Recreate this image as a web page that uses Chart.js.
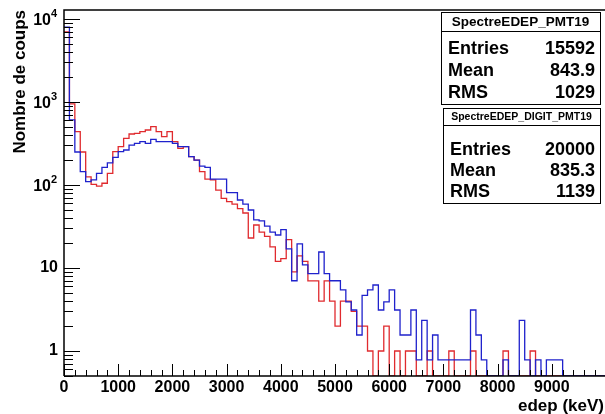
<!DOCTYPE html>
<html>
<head>
<meta charset="utf-8">
<script src="https://cdn.jsdelivr.net/npm/chart.js@4.4.1/dist/chart.umd.min.js"></script>
<style>
html, body { margin: 0; padding: 0; background: #fff; overflow: hidden; width: 605px; height: 414px; }
canvas { display: block; }
</style>
</head>
<body>
<canvas id="spectre" width="607" height="414"></canvas>
<script>
// histogramme : 100 canaux de 0 a 10000 keV
var nBins = 100, xMin = 0, xMax = 10000;

// SpectreEDEP_PMT19 (rouge)
var edepPMT = [
  7000, 950, 440, 250, 125, 102, 97, 105, 138, 252,
  290, 365, 412, 420, 440, 460, 505, 440, 383, 440,
  333, 277, 290, 220, 200, 145, 118, 115, 87, 69,
  63, 59, 52, 46, 23, 33, 27, 24, 18, 12,
  13, 22, 9, 14, 12, 7, 7, 4, 7, 4,
  2, 4, 4, 3, 2, 2, 1, 0, 1, 2,
  0, 1, 0, 1, 1, 0, 0, 1, 0, 0,
  0, 1, 0, 0, 0, 1, 0, 0, 0, 0,
  0, 1, 0, 0, 0, 0, 1, 0, 0, 0,
  0, 0, 0, 0, 0, 0, 0, 0, 0, 0
];

// SpectreEDEP_DIGIT_PMT19 (bleu, normalise aux entrees du rouge)
var edepDigit = [
  8000, 610, 250, 145, 110, 115, 138, 163, 185, 215,
  252, 264, 303, 318, 333, 318, 355, 333, 333, 333,
  318, 290, 290, 220, 200, 169, 163, 118, 118, 118,
  81, 81, 66, 59, 50, 38, 37, 32, 27, 25,
  29, 17, 7.02, 19.49, 10.91, 8.58, 8.58, 15.59, 8.58, 7.02,
  7.02, 5.46, 3.9, 3.12, 1.56, 4.68, 5.46, 6.24, 3.12, 3.9,
  5.46, 3.12, 1.56, 1.56, 3.12, 0.78, 2.34, 0.78, 1.56, 0.78,
  0.78, 0.78, 0.78, 0.78, 0.78, 3.12, 1.56, 0.78, 0, 0,
  0, 0.78, 0, 0, 2.34, 0.78, 0, 0.78, 0, 0.78,
  0.78, 0.78, 0, 0, 0, 0, 0, 0, 0, 0
];

var xTickLabels = ['0', '1000', '2000', '3000', '4000', '5000', '6000', '7000', '8000', '9000'];
var yTickValues = [1, 10, 100, 1000, 10000];
var yTickBase = ['1', '10', '10', '10', '10'];
var yTickExp = ['', '', '2', '3', '4'];

var statNames = ['Entries', 'Mean', 'RMS'];
var statsPMT = ['15592', '843.9', '1029'];
var statsDigit = ['20000', '835.3', '1139'];

var yMin = 0.5, yMax = 12840;
var police = '"Liberation Sans", Arial, Helvetica, sans-serif';

// points aux bords gauches des canaux + bord final ; canal vide -> bas de l'axe
function histo(vals) {
    var w = (xMax - xMin) / nBins;
    var pts = vals.map(function (v, i) {
        return { x: xMin + i * w, y: v > 0 ? v : yMin };
    });
    var last = vals[vals.length - 1];
    pts.push({ x: xMax, y: last > 0 ? last : yMin });
    return pts;
}

var decor = {
    id: 'decor',
    afterDatasetsDraw: function (chart) {
        var ctx = chart.ctx, a = chart.chartArea;
        var sx = chart.scales.x, sy = chart.scales.y;
        ctx.save();
        ctx.strokeStyle = '#000';
        ctx.fillStyle = '#000';

        // cadre
        ctx.lineWidth = 1.5;
        ctx.beginPath();
        ctx.moveTo(a.left, a.bottom); ctx.lineTo(a.left, a.top); ctx.lineTo(a.right, a.top);
        ctx.moveTo(a.left, a.bottom); ctx.lineTo(a.right, a.bottom);
        ctx.stroke();

        // graduations x
        ctx.lineWidth = 1;
        ctx.beginPath();
        for (var v = xMin; v <= xMax; v += 200) {
            var px = Math.round(sx.getPixelForValue(v)) + 0.5;
            var len = (v % 1000 === 0) ? 12 : 6;
            ctx.moveTo(px, a.bottom); ctx.lineTo(px, a.bottom - len);
        }
        // graduations y
        [0.1, 1, 10, 100, 1000, 10000].forEach(function (d) {
            for (var m = 1; m <= 9; m++) {
                var val = m * d;
                if (val < yMin || val > yMax) continue;
                var py = Math.round(sy.getPixelForValue(val)) + 0.5;
                ctx.moveTo(a.left, py); ctx.lineTo(a.left + (m === 1 ? 16 : 9), py);
            }
        });
        ctx.stroke();

        // etiquettes x
        ctx.font = 'bold 16px ' + police;
        ctx.textAlign = 'center';
        ctx.textBaseline = 'middle';
        xTickLabels.forEach(function (t) {
            ctx.fillText(t, sx.getPixelForValue(Number(t)), 388);
        });

        // etiquettes y
        yTickValues.forEach(function (val, i) {
            var py = sy.getPixelForValue(val);
            ctx.textAlign = 'right';
            ctx.textBaseline = 'middle';
            if (yTickExp[i]) {
                ctx.font = 'bold 16px ' + police;
                ctx.fillText(yTickBase[i], a.left - 13, py + 2);
                ctx.font = 'bold 11px ' + police;
                ctx.textAlign = 'left';
                ctx.fillText(yTickExp[i], a.left - 13, py - 5);
            } else {
                ctx.font = 'bold 16px ' + police;
                ctx.fillText(yTickBase[i], a.left - 6, py);
            }
        });

        // titres des axes
        ctx.font = 'bold 17px ' + police;
        ctx.textAlign = 'right';
        ctx.textBaseline = 'alphabetic';
        ctx.fillText('edep (keV)', 604, 411);
        ctx.save();
        ctx.translate(25, a.top);
        ctx.rotate(-Math.PI / 2);
        ctx.fillText('Nombre de coups', 0, 0);
        ctx.restore();

        // boites de statistiques
        function boite(x0, y0, x1, y1, yl, titre, tailleTitre, valeurs, lignes) {
            ctx.fillStyle = '#fff';
            ctx.fillRect(x0, y0, x1 - x0, y1 - y0);
            ctx.strokeStyle = '#000';
            ctx.lineWidth = 1;
            ctx.strokeRect(x0 + 0.5, y0 + 0.5, x1 - x0, y1 - y0);
            ctx.beginPath();
            ctx.moveTo(x0, yl + 0.5); ctx.lineTo(x1, yl + 0.5);
            ctx.stroke();
            ctx.fillStyle = '#000';
            ctx.textBaseline = 'middle';
            ctx.textAlign = 'center';
            ctx.font = 'bold ' + tailleTitre + 'px ' + police;
            ctx.fillText(titre, (x0 + x1) / 2, (y0 + yl) / 2 + 1);
            ctx.font = 'bold 18px ' + police;
            statNames.forEach(function (n, i) {
                ctx.textAlign = 'left';
                ctx.fillText(n, x0 + 7, lignes[i]);
                ctx.textAlign = 'right';
                ctx.fillText(valeurs[i], x1 - 5, lignes[i]);
            });
        }
        boite(441, 12, 600, 104, 31, 'SpectreEDEP_PMT19', 13.5, statsPMT, [49, 71, 93]);
        boite(443, 108, 600, 203, 125, 'SpectreEDEP_DIGIT_PMT19', 10.5, statsDigit, [150, 171, 192]);

        ctx.restore();
    }
};

new Chart(document.getElementById('spectre').getContext('2d'), {
    type: 'line',
    data: {
        datasets: [{
            label: 'SpectreEDEP_DIGIT_PMT19',
            data: histo(edepDigit),
            borderColor: '#1f22cc',
            borderWidth: 1.3,
            stepped: 'before',
            pointRadius: 0,
            fill: false,
            order: 0
        }, {
            label: 'SpectreEDEP_PMT19',
            data: histo(edepPMT),
            borderColor: '#e02a2e',
            borderWidth: 1.3,
            stepped: 'before',
            pointRadius: 0,
            fill: false,
            order: 1
        }]
    },
    options: {
        responsive: false,
        animation: false,
        devicePixelRatio: 1,
        layout: { padding: { left: 64, top: 10, right: 1, bottom: 38 } },
        scales: {
            x: { type: 'linear', min: xMin, max: xMax, display: false },
            y: { type: 'logarithmic', min: yMin, max: yMax, display: false }
        },
        plugins: {
            legend: { display: false },
            tooltip: { enabled: false }
        }
    },
    plugins: [decor]
});
</script>
</body>
</html>
